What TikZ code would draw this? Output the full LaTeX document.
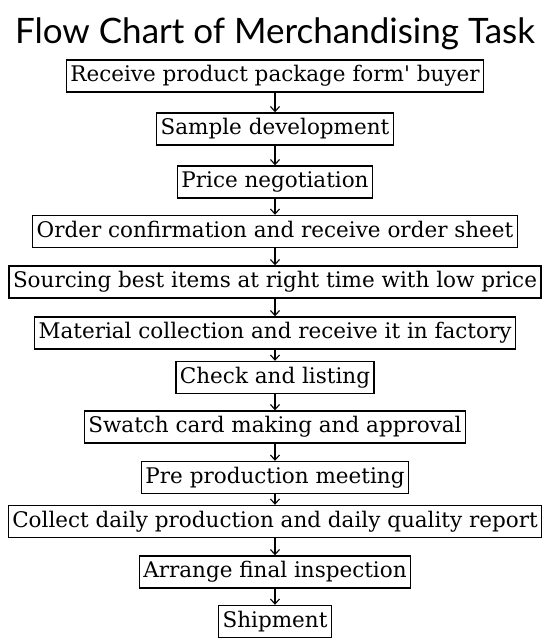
\documentclass[tikz,border=0pt]{standalone}
\usepackage{fontspec}
\setmainfont{DejaVu Serif}
\newfontfamily\titlefont{Lato}
\usepackage{tikz}
\usetikzlibrary{arrows.meta}

\tikzset{
  task/.style={
    draw,
    line width=1.4pt,
    inner xsep=4pt,
    inner ysep=4pt,
    text height=17.5pt,
    text depth=6.5pt,
    font=\fontsize{21.5}{25}\selectfont
  },
  flow/.style={
    ->,
    line width=1.1pt
  }
}

\begin{document}
\begin{tikzpicture}[>={Straight Barb[length=5pt,width=9pt]}, x=1pt, y=-1pt]

\useasboundingbox (0,0) rectangle (550,641);

% Title
\node (title) at (275,34) {\titlefont\fontsize{35}{39}\selectfont Flow Chart of Merchandising Task};

% Steps
\node[task] (receive)  at (275,76)    {Receive product package form\textquotesingle{} buyer};
\node[task] (sample)   at (275,129)   {Sample development};
\node[task] (price)    at (275,182)   {Price negotiation};
\node[task] (order)    at (275,231.5) {Order confirmation and receive order sheet};
\node[task] (sourcing) at (275,282)   {Sourcing best items at right time with low price};
\node[task] (material) at (275,333)   {Material collection and receive it in factory};
\node[task] (check)    at (275,377.5) {Check and listing};
\node[task] (swatch)   at (275,427)   {Swatch card making and approval};
\node[task] (preprod)  at (275,477.5) {Pre production meeting};
\node[task] (collect)  at (275,521.5) {Collect daily production and daily quality report};
\node[task] (inspect)  at (275,572)   {Arrange final inspection};
\node[task] (shipment) at (275,621.5) {Shipment};

% Arrows
\draw[flow] (receive)  -- (sample);
\draw[flow] (sample)   -- (price);
\draw[flow] (price)    -- (order);
\draw[flow] (order)    -- (sourcing);
\draw[flow] (sourcing) -- (material);
\draw[flow] (material) -- (check);
\draw[flow] (check)    -- (swatch);
\draw[flow] (swatch)   -- (preprod);
\draw[flow] (preprod)  -- (collect);
\draw[flow] (collect)  -- (inspect);
\draw[flow] (inspect)  -- (shipment);

\end{tikzpicture}
\end{document}
